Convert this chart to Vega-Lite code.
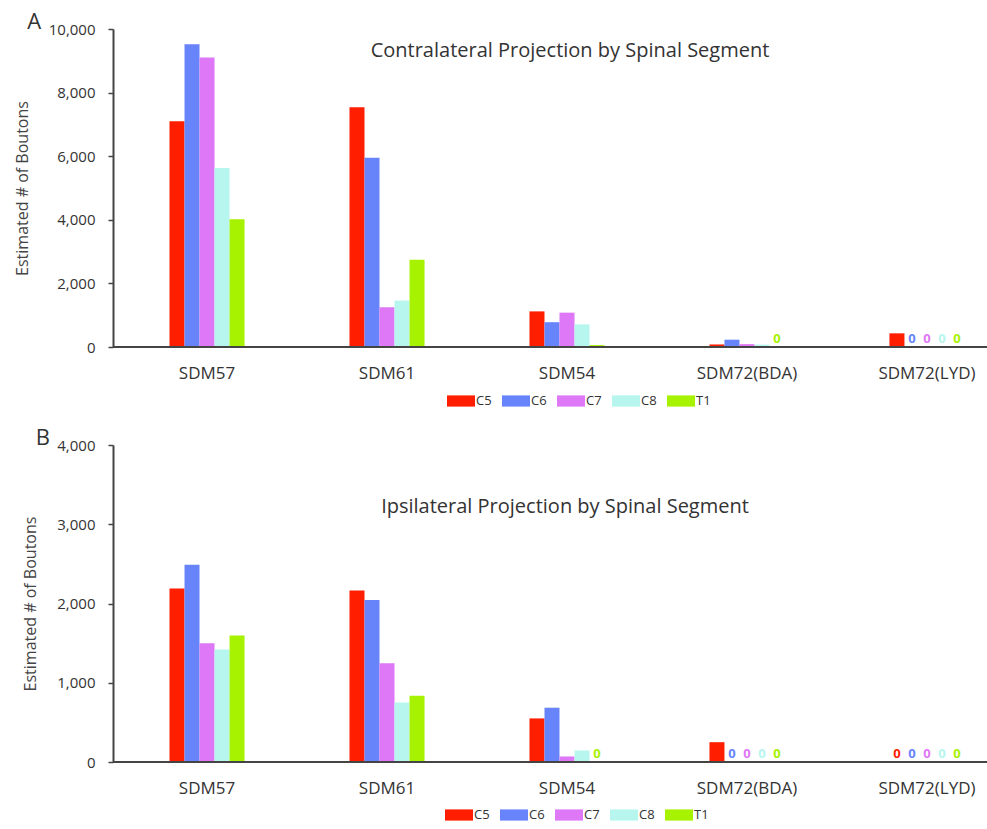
{
  "$schema": "https://vega.github.io/schema/vega-lite/v6.json",
  "background": "white",
  "padding": {"left": 14, "top": 11, "right": 0, "bottom": 0},
  "datasets": {
    "contra": [
      {"animal": "SDM57", "segment": "C5", "value": 7100},
      {"animal": "SDM57", "segment": "C6", "value": 9520},
      {"animal": "SDM57", "segment": "C7", "value": 9100},
      {"animal": "SDM57", "segment": "C8", "value": 5630},
      {"animal": "SDM57", "segment": "T1", "value": 4020},
      {"animal": "SDM61", "segment": "C5", "value": 7540},
      {"animal": "SDM61", "segment": "C6", "value": 5950},
      {"animal": "SDM61", "segment": "C7", "value": 1250},
      {"animal": "SDM61", "segment": "C8", "value": 1460},
      {"animal": "SDM61", "segment": "T1", "value": 2740},
      {"animal": "SDM54", "segment": "C5", "value": 1120},
      {"animal": "SDM54", "segment": "C6", "value": 780},
      {"animal": "SDM54", "segment": "C7", "value": 1080},
      {"animal": "SDM54", "segment": "C8", "value": 710},
      {"animal": "SDM54", "segment": "T1", "value": 60},
      {"animal": "SDM72(BDA)", "segment": "C5", "value": 80},
      {"animal": "SDM72(BDA)", "segment": "C6", "value": 230},
      {"animal": "SDM72(BDA)", "segment": "C7", "value": 90},
      {"animal": "SDM72(BDA)", "segment": "C8", "value": 75},
      {"animal": "SDM72(BDA)", "segment": "T1", "value": 0},
      {"animal": "SDM72(LYD)", "segment": "C5", "value": 430},
      {"animal": "SDM72(LYD)", "segment": "C6", "value": 0},
      {"animal": "SDM72(LYD)", "segment": "C7", "value": 0},
      {"animal": "SDM72(LYD)", "segment": "C8", "value": 0},
      {"animal": "SDM72(LYD)", "segment": "T1", "value": 0}
    ],
    "ipsi": [
      {"animal": "SDM57", "segment": "C5", "value": 2190},
      {"animal": "SDM57", "segment": "C6", "value": 2490},
      {"animal": "SDM57", "segment": "C7", "value": 1500},
      {"animal": "SDM57", "segment": "C8", "value": 1420},
      {"animal": "SDM57", "segment": "T1", "value": 1595},
      {"animal": "SDM61", "segment": "C5", "value": 2165},
      {"animal": "SDM61", "segment": "C6", "value": 2045},
      {"animal": "SDM61", "segment": "C7", "value": 1245},
      {"animal": "SDM61", "segment": "C8", "value": 750},
      {"animal": "SDM61", "segment": "T1", "value": 835},
      {"animal": "SDM54", "segment": "C5", "value": 550},
      {"animal": "SDM54", "segment": "C6", "value": 685},
      {"animal": "SDM54", "segment": "C7", "value": 70},
      {"animal": "SDM54", "segment": "C8", "value": 145},
      {"animal": "SDM54", "segment": "T1", "value": 0},
      {"animal": "SDM72(BDA)", "segment": "C5", "value": 250},
      {"animal": "SDM72(BDA)", "segment": "C6", "value": 0},
      {"animal": "SDM72(BDA)", "segment": "C7", "value": 0},
      {"animal": "SDM72(BDA)", "segment": "C8", "value": 0},
      {"animal": "SDM72(BDA)", "segment": "T1", "value": 0},
      {"animal": "SDM72(LYD)", "segment": "C5", "value": 0},
      {"animal": "SDM72(LYD)", "segment": "C6", "value": 0},
      {"animal": "SDM72(LYD)", "segment": "C7", "value": 0},
      {"animal": "SDM72(LYD)", "segment": "C8", "value": 0},
      {"animal": "SDM72(LYD)", "segment": "T1", "value": 0}
    ]
  },
  "columns": 1,
  "align": "none",
  "spacing": 19,
  "concat": [
    {
      "title": {"text": "A", "anchor": "start", "fontSize": 22, "offset": -12, "dx": 13},
      "resolve": {"scale": {"color": "independent"}},
      "vconcat": [
        {
          "width": 874,
          "height": 318,
          "title": {"text": "Contralateral Projection by Spinal Segment", "fontSize": 20, "offset": -39, "dx": 20},
          "data": {"name": "contra"},
          "layer": [
            {
              "mark": {"type": "bar"},
              "encoding": {
                "x": {"field": "animal", "type": "nominal", "sort": ["SDM57", "SDM61", "SDM54", "SDM72(BDA)", "SDM72(LYD)"],
                      "scale": {"range": [4, 904], "paddingInner": 0.583, "paddingOuter": 0.2917},
                      "axis": {"title": null, "domain": false, "ticks": false, "labelAngle": 0, "labelFontSize": 17, "labelPadding": 18}},
                "xOffset": {"field": "segment", "type": "nominal", "sort": ["C5", "C6", "C7", "C8", "T1"], "scale": {"paddingInner": 0, "paddingOuter": 0}},
                "y": {"field": "value", "type": "quantitative", "scale": {"domain": [0, 10000], "nice": false},
                      "axis": {"title": "Estimated # of  Boutons", "values": [0, 2000, 4000, 6000, 8000, 10000]}},
                "color": {"field": "segment", "type": "nominal", "sort": ["C5", "C6", "C7", "C8", "T1"],
                          "scale": {"domain": ["C5", "C6", "C7", "C8", "T1"], "range": ["#ff1e00", "#6784fb", "#de78f6", "#b6f6ee", "#a6f200"]},
                          "legend": {"legendX": 334, "legendY": 358}}
              }
            },
            {
              "transform": [{"filter": "datum.value === 0"}],
              "mark": {"type": "text", "text": "0", "baseline": "bottom", "dy": -1, "fontSize": 13, "fontWeight": "bold"},
              "encoding": {
                "x": {"field": "animal", "type": "nominal", "sort": ["SDM57", "SDM61", "SDM54", "SDM72(BDA)", "SDM72(LYD)"]},
                "xOffset": {"field": "segment", "type": "nominal", "sort": ["C5", "C6", "C7", "C8", "T1"]},
                "y": {"field": "value", "type": "quantitative"},
                "color": {"field": "segment", "type": "nominal"}
              }
            },
            {
              "mark": {"type": "rule", "color": "#444", "strokeWidth": 2},
              "encoding": {"y": {"datum": 0}}
            }
          ]
        }
      ]
    },
    {
      "title": {"text": "B", "anchor": "start", "fontSize": 22, "offset": -12, "dx": 13},
      "resolve": {"scale": {"color": "independent"}},
      "vconcat": [
        {
          "width": 874,
          "height": 317,
          "title": {"text": "Ipsilateral Projection by Spinal Segment", "fontSize": 20, "offset": -79, "dx": 15},
          "data": {"name": "ipsi"},
          "layer": [
            {
              "mark": {"type": "bar"},
              "encoding": {
                "x": {"field": "animal", "type": "nominal", "sort": ["SDM57", "SDM61", "SDM54", "SDM72(BDA)", "SDM72(LYD)"],
                      "scale": {"range": [4, 904], "paddingInner": 0.583, "paddingOuter": 0.2917},
                      "axis": {"title": null, "domain": false, "ticks": false, "labelAngle": 0, "labelFontSize": 17, "labelPadding": 18}},
                "xOffset": {"field": "segment", "type": "nominal", "sort": ["C5", "C6", "C7", "C8", "T1"], "scale": {"paddingInner": 0, "paddingOuter": 0}},
                "y": {"field": "value", "type": "quantitative", "scale": {"domain": [0, 4000], "nice": false},
                      "axis": {"title": "Estimated # of  Boutons", "values": [0, 1000, 2000, 3000, 4000]}},
                "color": {"field": "segment", "type": "nominal", "sort": ["C5", "C6", "C7", "C8", "T1"],
                          "scale": {"domain": ["C5", "C6", "C7", "C8", "T1"], "range": ["#ff1e00", "#6784fb", "#de78f6", "#b6f6ee", "#a6f200"]},
                          "legend": {"legendX": 332, "legendY": 356}}
              }
            },
            {
              "transform": [{"filter": "datum.value === 0"}],
              "mark": {"type": "text", "text": "0", "baseline": "bottom", "dy": -1, "fontSize": 13, "fontWeight": "bold"},
              "encoding": {
                "x": {"field": "animal", "type": "nominal", "sort": ["SDM57", "SDM61", "SDM54", "SDM72(BDA)", "SDM72(LYD)"]},
                "xOffset": {"field": "segment", "type": "nominal", "sort": ["C5", "C6", "C7", "C8", "T1"]},
                "y": {"field": "value", "type": "quantitative"},
                "color": {"field": "segment", "type": "nominal"}
              }
            },
            {
              "mark": {"type": "rule", "color": "#444", "strokeWidth": 2},
              "encoding": {"y": {"datum": 0}}
            }
          ]
        }
      ]
    }
  ],
  "resolve": {"scale": {"color": "independent", "y": "independent", "x": "independent"}},
  "config": {
    "view": {"stroke": null},
    "font": "Open Sans",
    "title": {"font": "Open Sans", "fontWeight": "normal", "color": "#333"},
    "axis": {"labelFont": "Open Sans", "titleFont": "Open Sans", "domainColor": "#444", "domainWidth": 2, "tickColor": "#444", "tickSize": 5, "tickWidth": 1.5, "labelColor": "#333", "titleColor": "#444", "titleFontWeight": "normal", "grid": false},
    "axisY": {"labelFontSize": 15, "labelPadding": 13, "titleFontSize": 16, "titlePadding": 18},
    "legend": {"orient": "none", "direction": "horizontal", "title": null, "labelFont": "Open Sans", "labelFontSize": 13, "labelColor": "#333", "labelOffset": 1, "columnPadding": 10, "symbolType": "M-1,-0.4H1V0.4H-1Z", "symbolSize": 784, "symbolStrokeWidth": 0, "symbolOpacity": 1}
  }
}
